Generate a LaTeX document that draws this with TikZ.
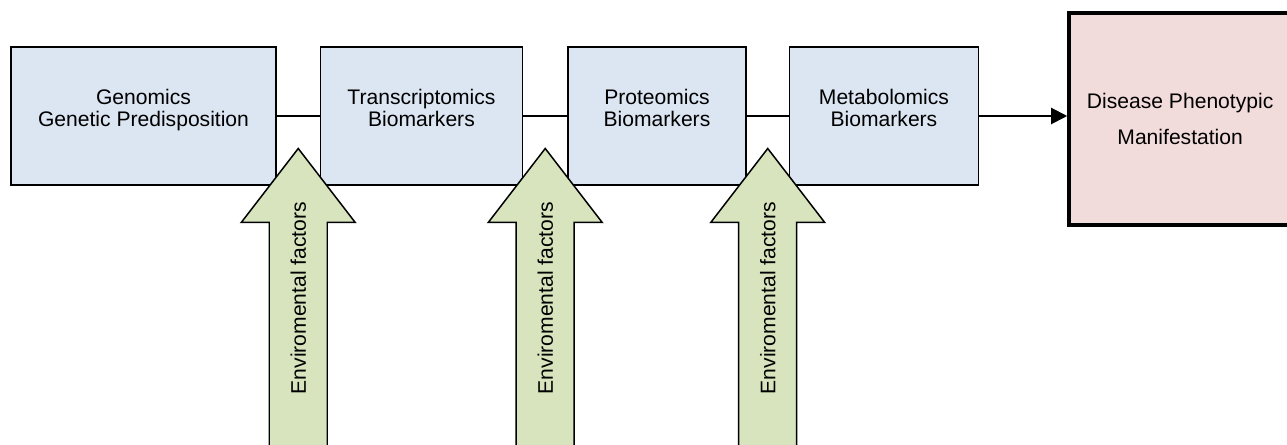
\documentclass[tikz,border=0pt]{standalone}
\usepackage{fontspec}
\setmainfont{Liberation Sans}
\usetikzlibrary{positioning,calc,arrows.meta}
\definecolor{boxblue}{HTML}{DCE6F2}
\definecolor{boxpink}{HTML}{F2DCDB}
\definecolor{arrowgreen}{HTML}{D7E4BD}

\begin{document}
\begin{tikzpicture}% omics cascade
            \tikzstyle{omics} = [draw, line width=0.85pt, fill=boxblue, minimum height=2.76cm, align=center, text depth=0.32cm, font=\fontsize{12}{12.5}\selectfont]
            \tikzstyle{pheno} = [draw, line width=2.2pt, fill=boxpink, minimum width=4.44cm, minimum height=4.24cm, align=center, font=\fontsize{12}{20.5}\selectfont]
            \tikzstyle{link} = [line width=1.15pt]
            \tikzstyle{env arrow} = [draw, line width=0.85pt, fill=arrowgreen, line join=miter]
            \tikzstyle{env text} = [rotate=90, font=\fontsize{12}{12.5}\selectfont]
            \useasboundingbox (0, 0) rectangle (25.74, -8.9);
            \node[omics, minimum width=5.3cm] (gen) at (2.87, -2.32) {Genomics\\Genetic Predisposition};
            \node[omics, minimum width=4.04cm, right=0.86cm of gen] (trans) {Transcriptomics\\Biomarkers};
            \node[omics, minimum width=3.56cm, right=0.88cm of trans] (prot) {Proteomics\\Biomarkers};
            \node[omics, minimum width=3.78cm, right=0.84cm of prot] (meta) {Metabolomics\\Biomarkers};
            \node[pheno, right=1.76cm of meta, yshift=-0.06cm] (dis) {Disease Phenotypic\\Manifestation};
            \draw[link] (gen) -- (trans);
            \draw[link] (trans) -- (prot);
            \draw[link] (prot) -- (meta);
            \draw[link, -{Triangle[length=0.32cm, width=0.32cm]}] (meta.east) -- (meta.east -| dis.west);
            \begin{scope}
                \clip (0, 0) rectangle (25.74, -8.9);
                \foreach \a/\b [count=\i] in {gen/trans, trans/prot, prot/meta} {
                    \coordinate (tip\i) at ($(\a.east)!0.5!(\b.west) + (0, -0.65)$);
                    \path[env arrow] (tip\i) -- ++(1.14, -1.48) -- ++(-0.56, 0) -- ++(0, -4.75)
                        -- ++(-1.16, 0) -- ++(0, 4.75) -- ++(-0.56, 0) -- cycle;
                    \node[env text] (env\i) at ($(tip\i) + (0, -2.99)$) {Enviromental factors};
                }
            \end{scope}
        \end{tikzpicture}
\end{document}
